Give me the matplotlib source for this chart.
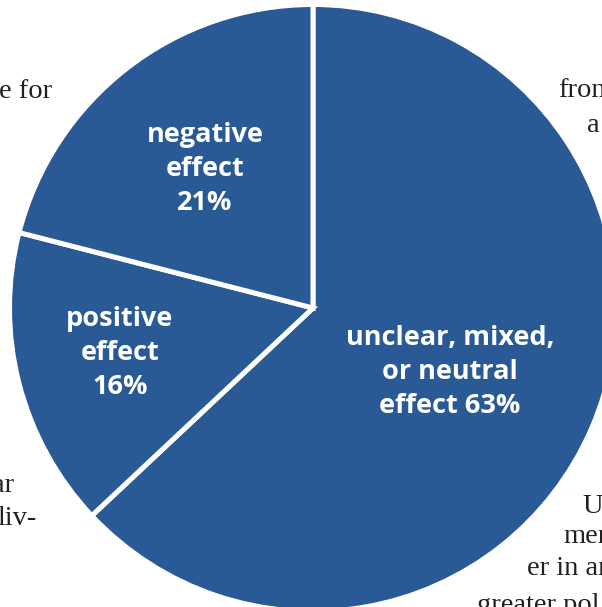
import matplotlib
matplotlib.use("Agg")
import matplotlib.pyplot as plt

# shares of the three effect categories (percent), clockwise from 12 o'clock
labels = ["unclear, mixed,\nor neutral\neffect 63%", "positive\neffect\n16%", "negative\neffect\n21%"]
shares = [63, 16, 21]

W, H = 602, 607
blue = "#2a5a96"

fig = plt.figure(figsize=(W / 100, H / 100), dpi=100)
ax = fig.add_axes([0, 0, 1, 1])

cx, cy = 313, H - 308
ax.pie(shares, center=(cx, cy), radius=303.5, startangle=90, counterclock=False,
       colors=[blue] * 3, wedgeprops=dict(edgecolor="white", linewidth=3.6), frame=True)
ax.set_xlim(0, W)
ax.set_ylim(0, H)
ax.set_aspect("equal")
ax.axis("off")

# label text, one line at a time (x centre, baselines measured from the top)
lab_font = dict(family="Open Sans", weight="bold", size=19.5, color="white",
                ha="center", va="baseline")
lab_pos = [(450, [345, 379, 413]), (120, [326, 360, 394]), (205, [142, 176, 210])]
for text, (x, ys) in zip(labels, lab_pos):
    for line, y in zip(text.split("\n"), ys):
        ax.text(x, H - y, line, **lab_font)

# fragments of the surrounding page text, cut off at the edges
body = dict(family="Liberation Serif", size=20.5, color="#231f20", va="baseline")
ax.text(52, H - 98, "e for", ha="right", **body)
ax.text(14, H - 492, "ar", ha="right", **body)
ax.text(37, H - 525, "liv-", ha="right", **body)
ax.text(558, H - 97, "from", ha="left", **body)
ax.text(587, H - 132, "a", ha="left", **body)
ax.text(582, H - 513, "Un", ha="left", **body)
ax.text(563, H - 543, "ment", ha="left", **body)
ax.text(527, H - 575, "er in an", ha="left", **body)
ax.text(477, H - 612, "greater pol", ha="left", **body)

fig.savefig("out.png", dpi=100)
